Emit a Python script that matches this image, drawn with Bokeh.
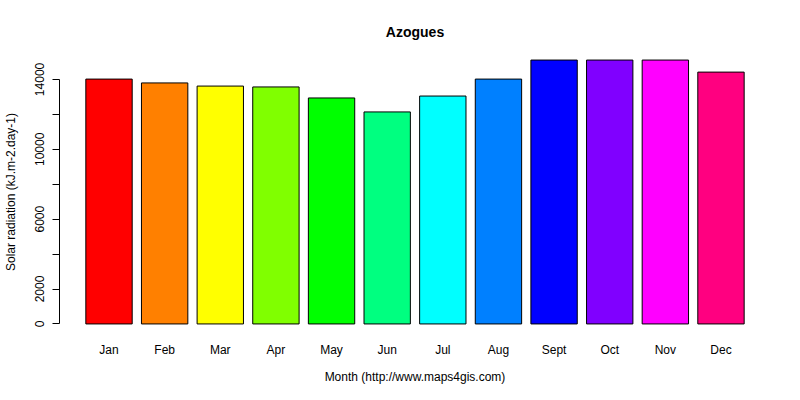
from bokeh.plotting import figure
from bokeh.models import ColumnDataSource, Range1d, FixedTicker
from bokeh.embed import file_html
from bokeh.resources import INLINE

months = ["Jan", "Feb", "Mar", "Apr", "May", "Jun",
          "Jul", "Aug", "Sept", "Oct", "Nov", "Dec"]
radiation = [14020, 13800, 13620, 13570, 12940, 12140,
             13050, 14020, 15110, 15110, 15110, 14420]
colors = ["#FF0000", "#FF8000", "#FFFF00", "#80FF00", "#00FF00", "#00FF80",
          "#00FFFF", "#0080FF", "#0000FF", "#8000FF", "#FF00FF", "#FF0080"]
y_ticks = [0, 2000, 4000, 6000, 8000, 10000, 12000, 14000]
y_tick_labels = ["0", "2000", "", "6000", "", "10000", "", "14000"]

FONT = "Liberation Sans"

# R barplot layout: bar width 1, space 0.2, axes extended by 4%
centers = [0.7 + 1.2 * i for i in range(len(months))]
source = ColumnDataSource(data=dict(x=centers, top=radiation, color=colors))

x_lo, x_hi = 0.2, 1.2 * len(months)
pad_x = (x_hi - x_lo) * 0.04
pad_y = max(radiation) * 0.04

p = figure(frame_width=711, frame_height=285,
           title="Azogues",
           x_range=Range1d(x_lo - pad_x, x_hi + pad_x),
           y_range=Range1d(-pad_y, max(radiation) + pad_y),
           toolbar_location=None, tools="",
           output_backend="svg")
p.min_border_left = 59
p.min_border_right = 14
p.min_border_top = 49
p.min_border_bottom = 50
p.outline_line_color = None
p.xgrid.grid_line_color = None
p.ygrid.grid_line_color = None

p.title.align = "center"
p.title.standoff = 20
p.title.text_font = FONT
p.title.text_font_size = "14px"
p.title.text_font_style = "bold"
p.title.text_color = "black"

p.vbar(x="x", top="top", width=1.0, bottom=0, source=source,
       fill_color="color", line_color="black", line_width=1)

xa = p.xaxis[0]
xa.ticker = FixedTicker(ticks=centers)
xa.major_label_overrides = {c: m for c, m in zip(centers, months)}
xa.axis_line_color = None
xa.major_tick_line_color = None
xa.minor_tick_line_color = None
xa.major_label_standoff = 2
xa.major_label_text_font = FONT
xa.major_label_text_font_size = "12px"
xa.major_label_text_color = "black"
xa.axis_label = "Month (http://www.maps4gis.com)"
xa.axis_label_standoff = 10
xa.axis_label_text_font = FONT
xa.axis_label_text_font_size = "12px"
xa.axis_label_text_font_style = "normal"
xa.axis_label_text_color = "black"

ya = p.yaxis[0]
ya.ticker = FixedTicker(ticks=y_ticks)
ya.major_label_overrides = {t: l for t, l in zip(y_ticks, y_tick_labels)}
ya.bounds = (0, 14000)
ya.major_label_orientation = "vertical"
ya.major_tick_in = 0
ya.major_tick_out = 7
ya.minor_tick_line_color = None
ya.axis_line_color = "black"
ya.major_tick_line_color = "black"
ya.major_label_standoff = 8
ya.major_label_text_font = FONT
ya.major_label_text_font_size = "12px"
ya.major_label_text_color = "black"
ya.axis_label = "Solar radiation (kJ.m-2.day-1)"
ya.axis_label_standoff = 15
ya.axis_label_text_font = FONT
ya.axis_label_text_font_size = "12px"
ya.axis_label_text_font_style = "normal"
ya.axis_label_text_color = "black"

open("out.html", "w").write(file_html(p, INLINE))
